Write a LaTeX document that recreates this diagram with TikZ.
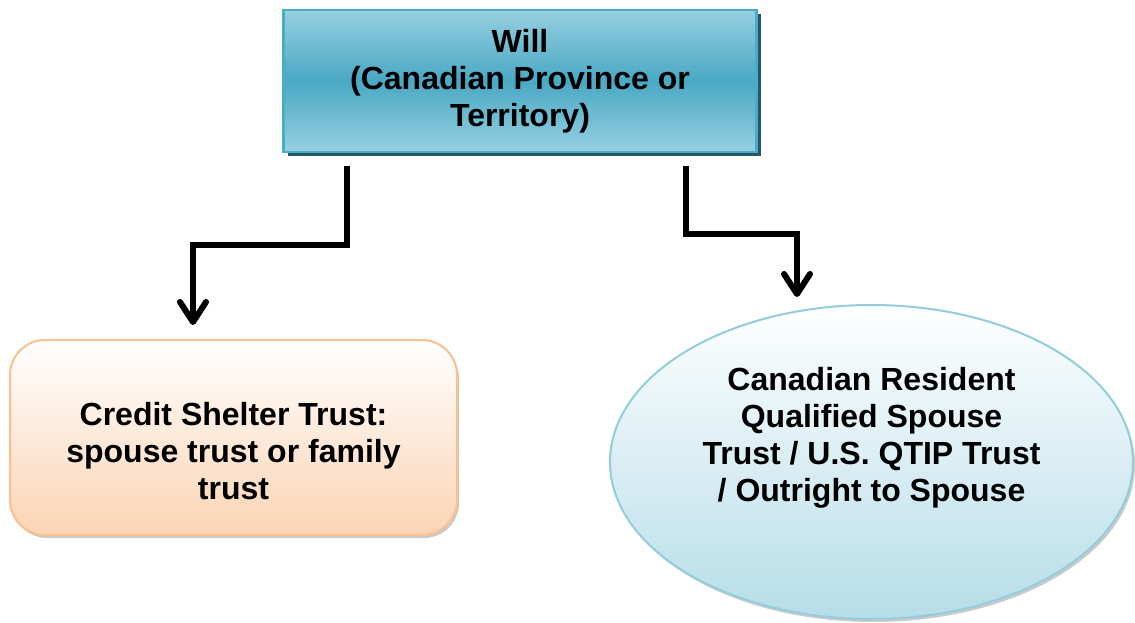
\documentclass[tikz,border=0pt]{standalone}
\usepackage{fontspec}
\setmainfont{Liberation Sans}
\usetikzlibrary{positioning,calc,shapes.geometric,shadows,arrows.meta}
\definecolor{willedge}{RGB}{75,172,198}
\definecolor{willlight}{RGB}{150,208,224}
\definecolor{willmid}{RGB}{74,168,196}
\definecolor{willshadow}{RGB}{33,89,104}
\definecolor{csbedge}{RGB}{250,192,144}
\definecolor{csbfill}{RGB}{251,212,180}
\definecolor{qstedge}{RGB}{146,205,220}
\definecolor{qstfill}{RGB}{182,221,232}

\begin{document}
\begin{tikzpicture}[
  x=1pt, y=1pt,
  every node/.style={font=\fontsize{32}{37}\selectfont\bfseries, align=center},
  willbox/.style={rectangle, draw=willedge, line width=2.5pt,
    minimum width=473pt, minimum height=142pt,
    top color=willlight, bottom color=willlight, middle color=willmid,
    drop shadow={shadow xshift=4pt, shadow yshift=-4pt, fill=willshadow, opacity=1}},
  trustbox/.style={rectangle, rounded corners=35pt, draw=csbedge, line width=2pt,
    minimum width=447pt, minimum height=195pt, text height=125pt,
    top color=white, bottom color=csbfill,
    drop shadow={shadow xshift=2pt, shadow yshift=-3pt, fill=black!35, opacity=.6}},
  spouseoval/.style={ellipse, draw=qstedge, line width=2pt,
    minimum width=523pt, minimum height=314pt, inner sep=0pt, text depth=55pt,
    top color=white, bottom color=qstfill,
    drop shadow={shadow xshift=2pt, shadow yshift=-3pt, fill=black!35, opacity=.6}},
  flow/.style={line width=6pt, -{Straight Barb[length=20pt,width=26pt,round]}}
]
\useasboundingbox (0,0) rectangle (1135,622);

\node[willbox] (will) at (520,541) {Will\\(Canadian Province or\\Territory)};
\node[trustbox] (csb) at (233.5,184.5) {Credit Shelter Trust:\\spouse trust or family\\trust};
\node[spouseoval] (qst) at (871.5,160) {Canadian Resident\\Qualified Spouse\\Trust / U.S. QTIP Trust\\/ Outright to Spouse};

% elbow connectors
\draw[flow] ([xshift=-173pt,yshift=-13pt]will.south) -- ++(0,-79) -| ([xshift=-40.5pt,yshift=14pt]csb.north);
\draw[flow] ([xshift=166pt,yshift=-13pt]will.south) -- ++(0,-68) -| ([xshift=-74.5pt,yshift=7pt]qst.north);
\end{tikzpicture}
\end{document}
